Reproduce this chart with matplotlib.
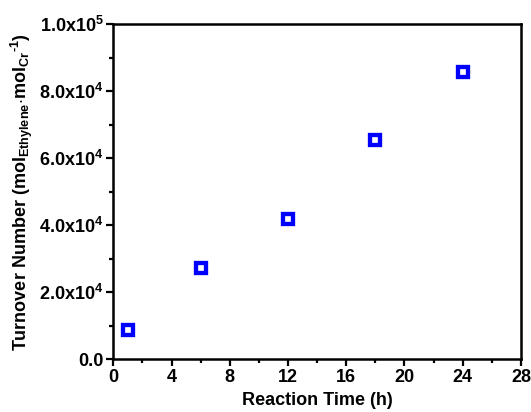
import math
import matplotlib
matplotlib.use("Agg")
import matplotlib.pyplot as plt
from matplotlib.ticker import MultipleLocator, FuncFormatter

time_h = [1, 6, 12, 18, 24]
ton = [8700, 27300, 41800, 65400, 85800]
x_ticks = [0, 4, 8, 12, 16, 20, 24, 28]

plt.rcParams['font.family'] = ['Liberation Sans', 'DejaVu Sans']
plt.rcParams['font.weight'] = 'bold'
plt.rcParams['mathtext.fontset'] = 'custom'
plt.rcParams['mathtext.rm'] = 'Liberation Sans:bold'
plt.rcParams['mathtext.it'] = 'Liberation Sans:bold:italic'
plt.rcParams['mathtext.bf'] = 'Liberation Sans:bold'
plt.rcParams['mathtext.default'] = 'rm'

fig = plt.figure(figsize=(5.31, 4.12), dpi=100)
ax = fig.add_axes([0.2134, 0.128, 0.7676, 0.8137])

ax.plot(time_h, ton, linestyle='none', marker='s', markersize=6.6,
        markerfacecolor='white', markeredgecolor='#0000ff', markeredgewidth=3.1)

ax.set_xlim(0, 28)
ax.set_ylim(0, 1e5)
ax.set_xticks(x_ticks)
ax.xaxis.set_minor_locator(MultipleLocator(2))
ax.yaxis.set_major_locator(MultipleLocator(2e4))
ax.yaxis.set_minor_locator(MultipleLocator(1e4))

def yfmt(v, pos):
    if v == 0:
        return '0.0'
    e = int(math.floor(math.log10(abs(v))))
    m = v / 10**e
    return f'{m:.1f}x10$^{{{e}}}$'

ax.yaxis.set_major_formatter(FuncFormatter(yfmt))

for s in ax.spines.values():
    s.set_linewidth(1.8)
ax.tick_params(which='major', direction='out', length=5, width=1.6, labelsize=13,
               top=False, right=False, pad=2)
ax.tick_params(which='minor', direction='out', length=3, width=1.6,
               top=False, right=False)
for lab in ax.get_xticklabels() + ax.get_yticklabels():
    lab.set_fontweight('bold')

ax.set_xlabel('Reaction Time (h)', fontsize=13, fontweight='bold', labelpad=4)
ax.set_ylabel('Turnover Number (mol$_{Ethylene}$$\\cdot$mol$_{Cr}$$^{\u2010 1}$)',
              fontsize=13, fontweight='bold', labelpad=3)

fig.savefig('out.png', dpi=100)
